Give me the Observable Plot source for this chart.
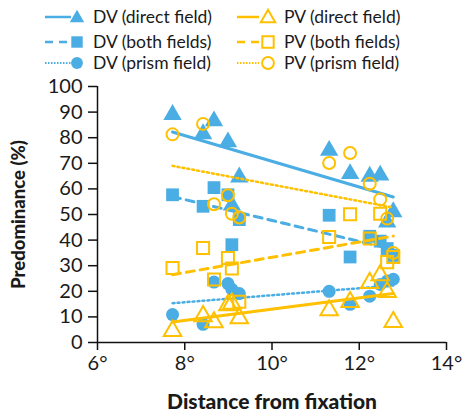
<!DOCTYPE html>
<html>
<head>
<meta charset="utf-8">
<script src="https://cdn.jsdelivr.net/npm/d3@7"></script>
<script src="https://cdn.jsdelivr.net/npm/@observablehq/plot@0.6"></script>
<style>
  html, body { margin: 0; padding: 0; background: #fff; }
  #wrap { position: relative; width: 462px; height: 413px; font-family: Lato, "Open Sans", sans-serif; }
  #legend { position: absolute; left: 0; top: 0; }
  #wrap svg { overflow: visible; }
  [aria-label="x-axis label"] text { font-weight: 900; font-size: 21px; }
  [aria-label="y-axis label"] text { font-weight: 900; font-size: 18.5px; }
</style>
</head>
<body>
<div id="wrap"><div id="chart"></div><svg id="legend" width="462" height="80"></svg></div>
<script>
// Distance from fixation (degrees) for each observation
const distance = [7.72, 8.42, 8.67, 8.99, 9.08, 9.25, 11.31, 11.79, 12.24, 12.48, 12.64, 12.78];
const seriesNames = ["DV (direct field)", "DV (both fields)", "DV (prism field)",
                     "PV (direct field)", "PV (both fields)", "PV (prism field)"];
// Predominance (%) per series
const dvDirect = [89, 81.5, 86.5, 78.3, 53.6, 64.6, 75, 65.9, 64.9, 65.3, 47, 51];
const dvBoth   = [57.7, 53.2, 60.5, 57.7, 38.2, 48, 49.7, 33.4, 41.5, 39.6, 36.7, 34];
const dvPrism  = [10.9, 7.1, 23.6, 23.0, 20.8, 19.1, 20.0, 14.9, 18.1, 22.7, 24.0, 24.7];
const pvDirect = [4.5, 10.3, 7.9, 14.6, 15.2, 9.5, 12.6, 15.8, 23.3, 26.3, 19.7, 8.0];
const pvBoth   = [29.1, 36.9, 24.6, 33.0, 28.9, 15.9, 41.2, 50.1, 40.6, 50.3, 31.4, 33.4];
const pvPrism  = [81.3, 85.4, 54, 57.5, 50.3, 48.8, 70.1, 74.0, 62.0, 55.9, 48.4, 35.0];
const xTicks = [6, 8, 10, 12, 14];
const yTicks = [0, 10, 20, 30, 40, 50, 60, 70, 80, 90, 100];

const BLUE = "#4aade3", GOLD = "#ffc000";
const valuesList = [dvDirect, dvBoth, dvPrism, pvDirect, pvBoth, pvPrism];
const DOT = "2 3";
const styles = [
  {color: BLUE, symbol: "triangle", filled: true, dash: null, r: 6.8},
  {color: BLUE, symbol: "square", filled: true, dash: "8 6", r: 7.2},
  {color: BLUE, symbol: "circle", filled: true, dash: DOT, r: 6.5},
  {color: GOLD, symbol: "triangle", filled: false, dash: null, r: 6.5},
  {color: GOLD, symbol: "square", filled: false, dash: "8 6", r: 6.8},
  {color: GOLD, symbol: "circle", filled: false, dash: DOT, r: 6}
];

const marks = [];
seriesNames.forEach((name, i) => {
  const st = styles[i];
  const data = distance.map((x, j) => ({x, y: valuesList[i][j], series: name}));
  marks.push(Plot.linearRegressionY(data, {
    x: "x", y: "y", ci: 0, stroke: st.color,
    strokeWidth: st.dash === DOT ? 2.5 : 3,
    strokeDasharray: st.dash
  }));
  marks.push(Plot.dot(data, {
    x: "x", y: "y", symbol: () => st.symbol, r: st.r,
    fill: st.filled ? st.color : "none",
    stroke: st.filled ? "none" : st.color,
    strokeWidth: 2
  }));
});

const plot = Plot.plot({
  width: 462, height: 413,
  marginLeft: 97, marginRight: 16, marginTop: 86, marginBottom: 71,
  style: {fontFamily: "Lato, 'Open Sans', sans-serif", fontSize: "20px", color: "#1a1a1a", background: "#fff"},
  x: {domain: [6, 14]},
  y: {domain: [0, 100]},
  symbol: {type: "identity"},
  marks: [
    ...marks,
    Plot.axisY({ticks: yTicks, tickSize: 9, tickPadding: 6, fontSize: 20, stroke: "#111", strokeWidth: 1.5,
      label: "Predominance (%)", labelAnchor: "center", labelArrow: "none", labelOffset: 86}),
    Plot.axisX({ticks: xTicks, tickSize: 8, tickPadding: 5, fontSize: 20, stroke: "#111", strokeWidth: 1.5,
      tickFormat: d => d + "°",
      label: "Distance from fixation", labelAnchor: "center", labelArrow: "none", labelOffset: 66}),
    Plot.ruleX([6], {stroke: "#111", strokeWidth: 1.5}),
    Plot.ruleY([0], {stroke: "#111", strokeWidth: 1.5})
  ]
});
document.getElementById("chart").appendChild(plot);

// Legend
const lg = d3.select("#legend");
const rowsY = [17, 42, 63];
const cols = [{x1: 45, x2: 71, mx: 77, tx: 93}, {x1: 237, x2: 259, mx: 268, tx: 284}];
seriesNames.forEach((name, i) => {
  const st = styles[i];
  const c = cols[Math.floor(i / 3)], y = rowsY[i % 3];
  lg.append("line").attr("x1", c.x1).attr("x2", c.x2).attr("y1", y).attr("y2", y)
    .attr("stroke", st.color).attr("stroke-width", st.dash === DOT ? 2 : 2.5)
    .attr("stroke-dasharray", st.dash === DOT ? "1.5 1.5" : st.dash);
  const sym = st.symbol === "triangle" ? d3.symbolTriangle : st.symbol === "square" ? d3.symbolSquare : d3.symbolCircle;
  const size = st.symbol === "triangle" ? 90 : st.symbol === "square" ? 130 : 110;
  lg.append("path").attr("d", d3.symbol(sym, size)()).attr("transform", `translate(${c.mx},${y + (st.symbol === "triangle" ? 1 : 0)})`)
    .attr("fill", st.filled ? st.color : "#fff").attr("stroke", st.filled ? "none" : st.color).attr("stroke-width", 2);
  lg.append("text").attr("x", c.tx).attr("y", y).attr("dy", "0.35em")
    .attr("font-family", "Lato, 'Open Sans', sans-serif").attr("font-size", 17.5).attr("fill", "#1a1a1a")
    .text(name);
});
</script>
</body>
</html>
